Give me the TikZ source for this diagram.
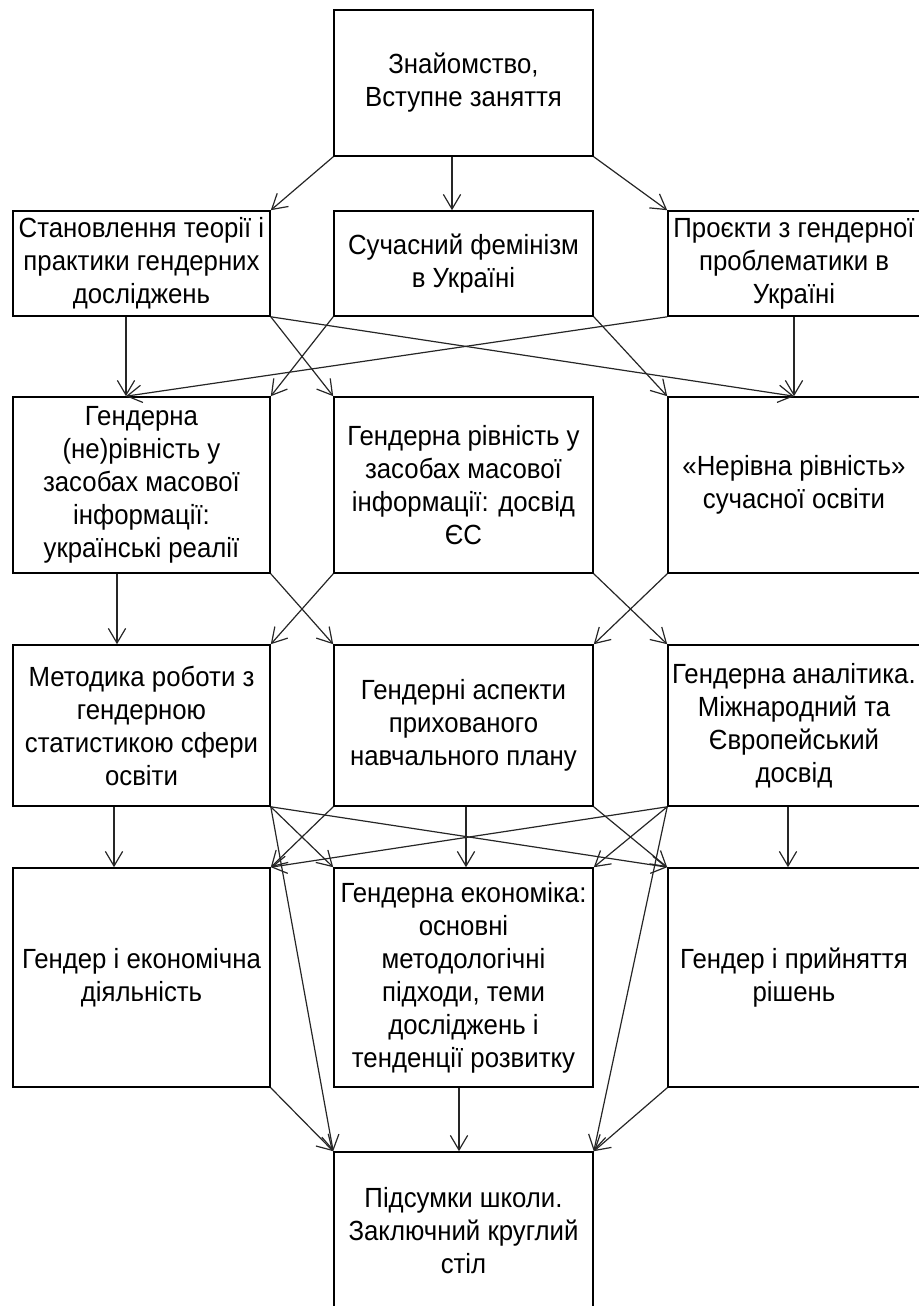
\documentclass[tikz,border=0pt]{standalone}
\usepackage{fontspec}
\setmainfont{Liberation Sans}[FakeStretch=0.93]
\usetikzlibrary{arrows.meta,calc}
\newcommand{\pxu}{0.75pt}
\tikzset{
  box/.style={draw=black, line width=1.2pt, rectangle, inner sep=0pt, align=center,
    font=\fontsize{20.8pt}{24.75pt}\selectfont},
  colL/.style={minimum width=257*\pxu},
  colM/.style={minimum width=259*\pxu},
  colR/.style={minimum width=252*\pxu},
  arr/.style={line width=0.9pt, draw=black!85, -{Straight Barb[length=11pt,width=13pt,line width=0.9pt]}}
}
\begin{document}
\begin{tikzpicture}[x=0.75pt,y=-0.75pt]
\useasboundingbox (0,0) rectangle (919,1306);
\clip (0,0) rectangle (919,1306);
% boxes
\node[box, colM, minimum height=146*\pxu] (T) at (463.5,83) {Знайомство,\\Вступне заняття};
\node[box, colL, minimum height=105*\pxu] (L2) at (141.5,263.5) {Становлення теорії і\\практики гендерних\\досліджень};
\node[box, colM, minimum height=105*\pxu] (M2) at (463.5,263.5) {Сучасний фемінізм\\в Україні};
\node[box, colR, minimum height=105*\pxu] (R2) at (794,263.5) {Проєкти з гендерної\\проблематики в\\Україні};
\node[box, colL, minimum height=176*\pxu] (L3) at (141.5,485) {Гендерна\\(не)рівність у\\засобах масової\\інформації:\\українські реалії};
\node[box, colM, minimum height=176*\pxu] (M3) at (463.5,485) {Гендерна рівність у\\засобах масової\\інформації: досвід\\ЄС};
\node[box, colR, minimum height=176*\pxu] (R3) at (794,485) {«Нерівна рівність»\\сучасної освіти};
\node[box, colL, minimum height=161*\pxu] (L4) at (141.5,725.5) {Методика роботи з\\гендерною\\статистикою сфери\\освіти};
\node[box, colM, minimum height=161*\pxu] (M4) at (463.5,725.5) {Гендерні аспекти\\прихованого\\навчального плану};
\node[box, colR, minimum height=161*\pxu] (R4) at (794,725.5) {Гендерна аналітика.\\Міжнародний та\\Європейський\\досвід};
\node[box, colL, minimum height=219*\pxu] (L5) at (141.5,977.5) {Гендер і економічна\\діяльність};
\node[box, colM, minimum height=219*\pxu] (M5) at (463.5,977.5) {Гендерна економіка:\\основні\\методологічні\\підходи, теми\\досліджень і\\тенденції розвитку};
\node[box, colR, minimum height=219*\pxu] (R5) at (794,977.5) {Гендер і прийняття\\рішень};
\node[box, colM, minimum height=158*\pxu] (F) at (463.5,1231) {Підсумки школи.\\Заключний круглий\\стіл};
% x positions of vertical connectors
\coordinate (xT) at (452,0);
\coordinate (xL2) at (126,0);
\coordinate (xR2) at (794,0);
\coordinate (xL3) at (117,0);
\coordinate (xL4) at (114,0);
\coordinate (xM4) at (466,0);
\coordinate (xR4) at (788,0);
\coordinate (xM5) at (459,0);
% row 1 -> 2
\draw[arr] (T.south west) -- (L2.north east);
\draw[arr] (T.south -| xT) -- (M2.north -| xT);
\draw[arr] (T.south east) -- (R2.north west);
% row 2 -> 3
\draw[arr] (L2.south -| xL2) -- (L3.north -| xL2);
\draw[arr] (L2.south east) -- (M3.north west);
\draw[arr] (L2.south east) -- (R3.north -| xR2);
\draw[arr] (M2.south west) -- (L3.north east);
\draw[arr] (M2.south east) -- (R3.north west);
\draw[arr] (R2.south west) -- (L3.north -| xL2);
\draw[arr] (R2.south -| xR2) -- (R3.north -| xR2);
% row 3 -> 4
\draw[arr] (L3.south -| xL3) -- (L4.north -| xL3);
\draw[arr] (L3.south east) -- (M4.north west);
\draw[arr] (M3.south west) -- (L4.north east);
\draw[arr] (M3.south east) -- (R4.north west);
\draw[arr] (R3.south west) -- (M4.north east);
% row 4 -> 5
\draw[arr] (L4.south -| xL4) -- (L5.north -| xL4);
\draw[arr] (M4.south -| xM4) -- (M5.north -| xM4);
\draw[arr] (R4.south -| xR4) -- (R5.north -| xR4);
\draw[arr] (L4.south east) -- (M5.north west);
\draw[arr] (L4.south east) -- (R5.north west);
\draw[arr] (L4.south east) -- (F.north west);
\draw[arr] (M4.south west) -- (L5.north east);
\draw[arr] (M4.south east) -- (R5.north west);
\draw[arr] (R4.south west) -- (M5.north east);
\draw[arr] (R4.south west) -- (L5.north east);
\draw[arr] (R4.south west) -- (F.north east);
% row 5 -> final
\draw[arr] (L5.south east) -- (F.north west);
\draw[arr] (M5.south -| xM5) -- (F.north -| xM5);
\draw[arr] (R5.south west) -- (F.north east);
\end{tikzpicture}
\end{document}
